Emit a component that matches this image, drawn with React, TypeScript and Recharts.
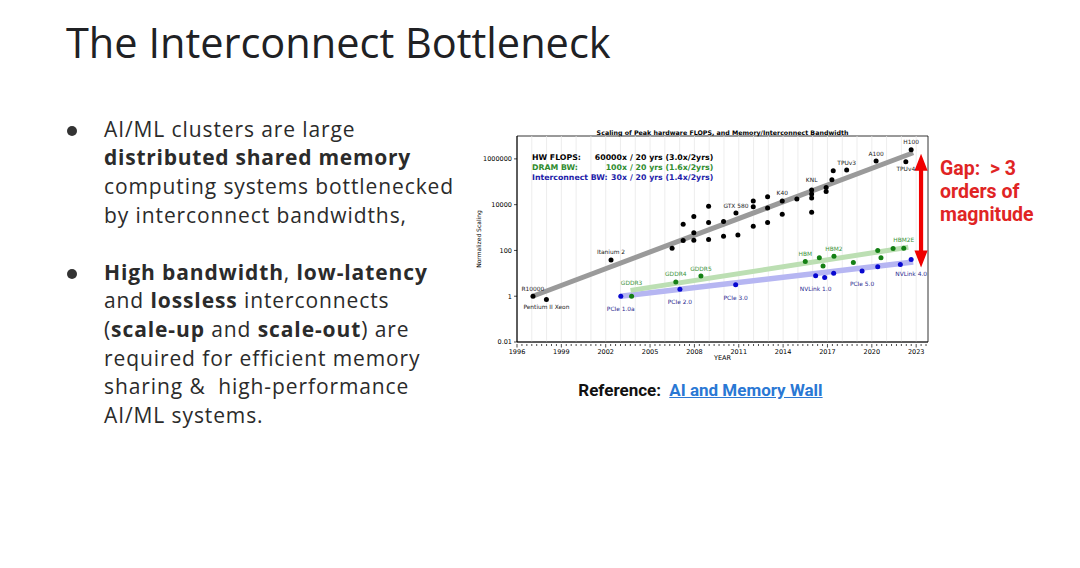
import React from "react";
import {
  ComposedChart,
  Scatter,
  XAxis,
  YAxis,
  ReferenceArea,
  ReferenceLine,
} from "recharts";

type Pt = { year: number; value: number; name?: string };

// Peak hardware FLOPS (normalized)
const hwFlops: Pt[] = [
  { year: 1997.08, value: 1, name: "R10000" },
  { year: 1997.99, value: 0.72, name: "Pentium II Xeon" },
  { year: 2002.36, value: 38, name: "Itanium 2" },
  { year: 2006.49, value: 126 },
  { year: 2007.24, value: 270 },
  { year: 2007.24, value: 1380 },
  { year: 2007.96, value: 282 },
  { year: 2007.96, value: 589 },
  { year: 2007.96, value: 3020 },
  { year: 2008.96, value: 302 },
  { year: 2008.96, value: 1660 },
  { year: 2008.96, value: 8510 },
  { year: 2009.97, value: 417 },
  { year: 2009.97, value: 1860 },
  { year: 2010.81, value: 4370, name: "GTX 580" },
  { year: 2010.94, value: 470 },
  { year: 2011.98, value: 14500 },
  { year: 2011.98, value: 8130 },
  { year: 2011.98, value: 1150 },
  { year: 2012.95, value: 22400 },
  { year: 2012.95, value: 7240 },
  { year: 2012.95, value: 1660 },
  { year: 2013.94, value: 14500, name: "K40" },
  { year: 2013.94, value: 3800 },
  { year: 2014.93, value: 17800 },
  { year: 2015.93, value: 43700, name: "KNL" },
  { year: 2015.93, value: 29500 },
  { year: 2015.93, value: 19500 },
  { year: 2015.93, value: 4680 },
  { year: 2016.91, value: 56200 },
  { year: 2016.91, value: 38000 },
  { year: 2017.3, value: 123000 },
  { year: 2017.39, value: 302000 },
  { year: 2018.3, value: 324000, name: "TPUv3" },
  { year: 2020.29, value: 813000, name: "A100" },
  { year: 2022.3, value: 741000, name: "TPUv4" },
  { year: 2022.66, value: 2510000, name: "H100" },
];

// DRAM bandwidth
const dramBw: Pt[] = [
  { year: 2003.75, value: 1, name: "GDDR3" },
  { year: 2006.74, value: 4.2, name: "GDDR4" },
  { year: 2008.44, value: 7.6, name: "GDDR5" },
  { year: 2015.5, value: 33, name: "HBM" },
  { year: 2016.45, value: 48 },
  { year: 2016.7, value: 21 },
  { year: 2017.44, value: 56, name: "HBM2" },
  { year: 2018.75, value: 30 },
  { year: 2020.4, value: 100 },
  { year: 2020.62, value: 48 },
  { year: 2021.44, value: 123 },
  { year: 2022.16, value: 126, name: "HBM2E" },
];

// Interconnect bandwidth
const interconnectBw: Pt[] = [
  { year: 2003.02, value: 1, name: "PCIe 1.0a" },
  { year: 2007.02, value: 2, name: "PCIe 2.0" },
  { year: 2010.79, value: 3.2, name: "PCIe 3.0" },
  { year: 2016.2, value: 7.9, name: "NVLink 1.0" },
  { year: 2016.81, value: 6.5 },
  { year: 2017.42, value: 10 },
  { year: 2019.34, value: 12.6, name: "PCIe 5.0" },
  { year: 2020.4, value: 19.5 },
  { year: 2021.93, value: 24.5 },
  { year: 2022.66, value: 40, name: "NVLink 4.0" },
];

// fitted trend lines (end points)
const flopsTrend: Pt[] = [
  { year: 1997.06, value: 1 },
  { year: 2022.8, value: 1860000 },
];
const dramTrend: Pt[] = [
  { year: 2003.68, value: 1.8 },
  { year: 2022.47, value: 138 },
];
const interconnectTrend: Pt[] = [
  { year: 2003.0, value: 1 },
  { year: 2022.8, value: 31 },
];

// the "gap" arrow
const gapArrow: Pt[] = [
  { year: 2023.33, value: 1660000 },
  { year: 2023.33, value: 18 },
];

const xDomain: [number, number] = [1996, 2023.8];
const yDomain: [number, number] = [0.01, 10000000];
const yearLabels = [1996, 1999, 2002, 2005, 2008, 2011, 2014, 2017, 2020, 2023];
const gridYears = [
  1997, 1998, 1999, 2000, 2001, 2002, 2003, 2004, 2005, 2006, 2007, 2008, 2009,
  2010, 2011, 2012, 2013, 2014, 2015, 2016, 2017, 2018, 2019, 2020, 2021, 2022, 2023,
];
const xTickValues = Array.from({ length: 84 }, (_, k) => 1996 + k / 3);
const yTicks = [0.01, 1, 100, 10000, 1000000];

const legendRows = [
  { label: "HW FLOPS:", num: "60000x", rest: "/ 20 yrs (3.0x/2yrs)", color: "#000000" },
  { label: "DRAM BW:", num: "100x", rest: "/ 20 yrs (1.6x/2yrs)", color: "#2e8b2e" },
  { label: "Interconnect BW:", num: "30x", rest: "/ 20 yrs (1.4x/2yrs)", color: "#1c1ca8" },
];

// vertical label offsets (px) from each point
const labelOffsets: Record<string, number> = {
  R10000: -7,
  "Pentium II Xeon": 8,
  "Itanium 2": -8,
  "GTX 580": -7,
  K40: -8,
  KNL: -10,
  TPUv3: -7,
  A100: -7,
  H100: -8,
  TPUv4: 7,
  GDDR3: -13,
  GDDR4: -8,
  GDDR5: -7,
  HBM: -7,
  HBM2: -7,
  HBM2E: -8,
  "PCIe 1.0a": 13,
  "PCIe 2.0": 13,
  "PCIe 3.0": 13,
  "NVLink 1.0": 13,
  "PCIe 5.0": 13,
  "NVLink 4.0": 14,
};

const MPL = "DejaVu Sans, sans-serif";
const SLIDE = "'Open Sans', sans-serif";

const dotShape = (fill: string, labelColor: string) => (props: any) => {
  const { cx, cy, payload } = props;
  if (cx == null || cy == null) return <g />;
  const name = payload?.name;
  return (
    <g>
      <circle cx={cx} cy={cy} r={2.5} fill={fill} />
      {name && (
        <text
          x={cx}
          y={cy + (labelOffsets[name] ?? -7)}
          textAnchor="middle"
          dominantBaseline="central"
          fontSize={5.9}
          fontFamily={MPL}
          fill={labelColor}
        >
          {name}
        </text>
      )}
    </g>
  );
};

const noShape = () => <g />;

const XTick = (props: any) => {
  const { x, y, payload } = props;
  const v = payload.value;
  const yr = Math.round(v);
  const major = Math.abs(v - yr) < 1e-6 && yearLabels.includes(yr);
  return (
    <g>
      <line x1={x} x2={x} y1={y} y2={y + (major ? 3.5 : 2)} stroke="#000" strokeWidth={0.7} />
      {major && (
        <text x={x} y={y + 8} textAnchor="middle" dominantBaseline="central" fontSize={6.5} fontFamily={MPL} fill="#000">
          {yr}
        </text>
      )}
    </g>
  );
};

const ArrowShape = (p: any) => {
  const { x1, y1, y2 } = p;
  if (x1 == null) return <g />;
  const x = x1;
  const top = Math.min(y1, y2);
  const bot = Math.max(y1, y2);
  const hw = 6.6;
  const hl = 17;
  const sw = 2.1;
  const d = `M${x},${top} L${x + hw},${top + hl} L${x + sw},${top + hl} L${x + sw},${bot - hl} L${x + hw},${bot - hl} L${x},${bot} L${x - hw},${bot - hl} L${x - sw},${bot - hl} L${x - sw},${top + hl} L${x - hw},${top + hl} Z`;
  return <path d={d} fill="#f00000" />;
};

function ScalingChart() {
  return (
    <ComposedChart width={470} height={250} margin={{ top: 16, right: 12, bottom: 0, left: 0 }}>
      <XAxis
        type="number"
        dataKey="year"
        domain={xDomain}
        ticks={xTickValues}
        interval={0}
        allowDataOverflow
        tickSize={0}
        tickLine={false}
        tick={<XTick />}
        axisLine={{ stroke: "#000", strokeWidth: 0.8 }}
        height={28}
        label={{ value: "YEAR", position: "insideBottom", offset: 10.5, style: { fontSize: 6.5, fontFamily: MPL, fill: "#000" } }}
      />
      <YAxis
        type="number"
        dataKey="value"
        scale="log"
        domain={yDomain}
        ticks={yTicks}
        interval={0}
        allowDataOverflow
        width={47}
        tickSize={3}
        tickMargin={2}
        tickFormatter={(v: number) => String(v)}
        tick={{ fontSize: 6.5, fontFamily: MPL, fill: "#000" }}
        tickLine={{ stroke: "#000", strokeWidth: 0.7 }}
        axisLine={{ stroke: "#000", strokeWidth: 0.8 }}
        label={{
          value: "Normalized Scaling",
          angle: -90,
          position: "insideLeft",
          offset: 9,
          style: { fontSize: 6, fontFamily: MPL, fill: "#000", textAnchor: "middle" },
        }}
      />
      {gridYears.map((g) => (
        <ReferenceLine key={g} x={g} stroke="#e8e8e8" strokeWidth={0.8} />
      ))}
      <ReferenceArea x1={xDomain[0]} x2={xDomain[1]} y1={yDomain[0]} y2={yDomain[1]} fill="none" fillOpacity={0} stroke="#000" strokeWidth={0.8} />
      <Scatter data={flopsTrend} dataKey="value" line={{ stroke: "#9a9a9a", strokeWidth: 5 }} shape={noShape} isAnimationActive={false} />
      <Scatter data={interconnectTrend} dataKey="value" line={{ stroke: "#b6b6f2", strokeWidth: 5.5 }} shape={noShape} isAnimationActive={false} />
      <Scatter data={dramTrend} dataKey="value" line={{ stroke: "#bcdfb3", strokeWidth: 5 }} shape={noShape} isAnimationActive={false} />
      <Scatter data={hwFlops} dataKey="value" shape={dotShape("#000000", "#222222")} isAnimationActive={false} />
      <Scatter data={interconnectBw} dataKey="value" shape={dotShape("#0808d0", "#2b2b90")} isAnimationActive={false} />
      <Scatter data={dramBw} dataKey="value" shape={dotShape("#148014", "#3a933a")} isAnimationActive={false} />
      <ReferenceLine
        segment={[
          { x: gapArrow[0].year, y: gapArrow[0].value },
          { x: gapArrow[1].year, y: gapArrow[1].value },
        ]}
        shape={ArrowShape}
        ifOverflow="visible"
      />
    </ComposedChart>
  );
}

const B = ({ children }: { children: React.ReactNode }) => <b style={{ fontWeight: 700 }}>{children}</b>;

export default function App() {
  const lineStyle: React.CSSProperties = { height: 28.6, whiteSpace: "nowrap" };
  return (
    <div
      style={{
        position: "absolute",
        left: 0,
        top: 0,
        width: 1080,
        height: 568,
        background: "#ffffff",
        overflow: "hidden",
        fontFamily: SLIDE,
      }}
    >
      <div
        style={{
          position: "absolute",
          left: 66,
          top: 22,
          fontSize: 41.5,
          lineHeight: "41.5px",
          letterSpacing: 0,
          color: "#202124",
          whiteSpace: "nowrap",
        }}
      >
        The Interconnect Bottleneck
      </div>

      {/* bullets */}
      <div style={{ position: "absolute", left: 66.7, top: 126, width: 10, height: 10, borderRadius: 5, background: "#333" }} />
      <div style={{ position: "absolute", left: 66.7, top: 269, width: 10, height: 10, borderRadius: 5, background: "#333" }} />
      <div
        style={{
          position: "absolute",
          left: 104,
          top: 114.9,
          fontSize: 21,
          lineHeight: "28.6px",
          letterSpacing: 0.9,
          color: "#2b2b2b",
        }}
      >
        <div style={lineStyle}>AI/ML clusters are large</div>
        <div style={{ ...lineStyle, letterSpacing: 0.75 }}><B>distributed shared memory</B></div>
        <div style={lineStyle}>computing systems bottlenecked</div>
        <div style={lineStyle}>by interconnect bandwidths,</div>
        <div style={lineStyle}>&nbsp;</div>
        <div style={lineStyle}><B>High bandwidth</B>, <B>low-latency</B></div>
        <div style={lineStyle}>and <B>lossless</B> interconnects</div>
        <div style={lineStyle}>(<B>scale-up</B> and <B>scale-out</B>) are</div>
        <div style={lineStyle}>required for efficient memory</div>
        <div style={{ ...lineStyle, whiteSpace: "pre" }}>sharing &amp;  high-performance</div>
        <div style={lineStyle}>AI/ML systems.</div>
      </div>

      {/* chart */}
      <div style={{ position: "absolute", left: 470, top: 120, width: 470, height: 250 }}>
        <ScalingChart />
      </div>

      {/* chart annotations */}
      <svg width={1080} height={568} style={{ position: "absolute", left: 0, top: 0, pointerEvents: "none" }}>
        <text x={722.5} y={132.3} textAnchor="middle" dominantBaseline="central" fontSize={6.3} fontWeight={700} fontFamily={MPL} fill="#000">
          Scaling of Peak hardware FLOPS, and Memory/Interconnect Bandwidth
        </text>
        {legendRows.map((r, i) => (
          <g key={r.label} fill={r.color} fontSize={7.8} fontWeight={700} fontFamily={MPL}>
            <text x={532} y={157.3 + i * 10} dominantBaseline="central">{r.label}</text>
            <text x={627} y={157.3 + i * 10} dominantBaseline="central" textAnchor="end">{r.num}</text>
            <text x={630} y={157.3 + i * 10} dominantBaseline="central">{r.rest}</text>
          </g>
        ))}
      </svg>

      {/* gap note */}
      <div
        style={{
          position: "absolute",
          left: 940,
          top: 156.7,
          fontFamily: "Roboto, sans-serif",
          fontWeight: 700,
          fontSize: 19.5,
          lineHeight: "23.3px",
          color: "#e02424",
          whiteSpace: "pre",
        }}
      >
        {"Gap:  > 3\norders of\nmagnitude"}
      </div>

      {/* reference */}
      <div
        style={{
          position: "absolute",
          left: 578.3,
          top: 382.4,
          fontFamily: "Roboto, sans-serif",
          fontWeight: 700,
          fontSize: 17,
          lineHeight: "17px",
          color: "#111",
          whiteSpace: "nowrap",
        }}
      >
        Reference:
      </div>
      <div
        style={{
          position: "absolute",
          left: 669.3,
          top: 382.4,
          fontFamily: "Roboto, sans-serif",
          fontWeight: 700,
          fontSize: 17,
          lineHeight: "17px",
          color: "#2a78d4",
          textDecoration: "underline",
          whiteSpace: "nowrap",
        }}
      >
        AI and Memory Wall
      </div>
    </div>
  );
}
